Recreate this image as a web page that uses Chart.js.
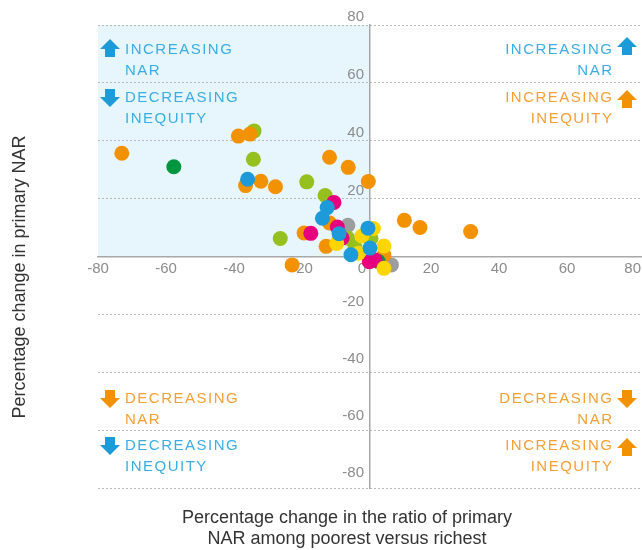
<!DOCTYPE html>
<html>
<head>
<meta charset="utf-8">
<script src="https://cdn.jsdelivr.net/npm/chart.js@4.4.1/dist/chart.umd.min.js"></script>
<style>
  html, body { margin: 0; padding: 0; background: #fff; }
</style>
</head>
<body>
<canvas id="myChart" width="642" height="550"></canvas>
<script>
// tick labels
const xTicks = [-80, -60, -40, -20, 0, 20, 40, 60, 80];
const yTicks = [80, 60, 40, 20, -20, -40, -60, -80];

// points [ratio change, NAR change], one list per colour
const orangePts = [
  [-73, 35.7], [-38.7, 41.6], [-35.3, 42.3], [-36.6, 24.5], [-32.1, 26], [-27.8, 24.1],
  [-22.9, -2.9], [-11.9, 34.3], [-6.4, 30.8], [-0.5, 25.9], [10.1, 12.5], [14.7, 10],
  [29.6, 8.6], [-19.4, 8.1], [-11.9, 11.6], [-12.9, 3.5], [4.1, 0.5]
];
const greenPts = [
  [-34.1, 43.4], [-34.3, 33.6], [-26.4, 6.2], [-18.6, 25.8], [-13.2, 21.1],
  [-6.5, 6.3], [-4.4, 3.1], [0.3, 6.3]
];
const darkGreenPts = [[-57.7, 31], [2.4, -1.7]];
const bluePts = [
  [-36, 26.7], [-12.6, 16.9], [-14, 13.2], [-9.1, 7.9], [-5.6, 0.6], [-0.6, 9.8], [0, 2.9]
];
const magentaPts = [[-10.6, 18.7], [-17.4, 8], [-9.6, 10.2], [-0.2, -1.8], [-8.2, 6.4], [1.5, -1.2]];
const greyPts = [[-6.5, 10.8], [6.3, -2.9]];
const yellowPts = [[-9.8, 4.5], [-2.4, 7.1], [1, 9.7], [4.1, 3.6], [4.1, -4.1], [-3.4, 1.1]];

const BLUE = '#1d9bd8', ORANGE = '#f39200';

function toXY(list) {
  return list.map(p => ({ x: p[0], y: p[1] }));
}

// top-most first
const series = [
  { pts: bluePts, color: BLUE },
  { pts: yellowPts, color: '#ffd500' },
  { pts: magentaPts, color: '#e6007e' },
  { pts: darkGreenPts, color: '#009640' },
  { pts: orangePts, color: ORANGE },
  { pts: greenPts, color: '#95c11f' },
  { pts: greyPts, color: '#9d9d9d' }
];

function drawArrow(ctx, x, y, up, color) {
  const w = 20, h = 18, head = 10, stem = 10, c = x + w / 2;
  ctx.fillStyle = color;
  ctx.beginPath();
  if (up) {
    ctx.moveTo(c, y);
    ctx.lineTo(x + w, y + head);
    ctx.lineTo(c + stem / 2, y + head);
    ctx.lineTo(c + stem / 2, y + h);
    ctx.lineTo(c - stem / 2, y + h);
    ctx.lineTo(c - stem / 2, y + head);
    ctx.lineTo(x, y + head);
  } else {
    ctx.moveTo(c - stem / 2, y);
    ctx.lineTo(c + stem / 2, y);
    ctx.lineTo(c + stem / 2, y + h - head);
    ctx.lineTo(x + w, y + h - head);
    ctx.lineTo(c, y + h);
    ctx.lineTo(x, y + h - head);
    ctx.lineTo(c - stem / 2, y + h - head);
  }
  ctx.closePath();
  ctx.fill();
}

// quadrant notes: side, arrow top, arrow direction, colour, first baseline, lines
const notes = [
  ['left', 39, true, BLUE, 54, ['INCREASING', 'NAR']],
  ['left', 89, false, BLUE, 102, ['DECREASING', 'INEQUITY']],
  ['right', 37, true, BLUE, 54, ['INCREASING', 'NAR']],
  ['right', 90, true, ORANGE, 102, ['INCREASING', 'INEQUITY']],
  ['left', 390, false, ORANGE, 403, ['DECREASING', 'NAR']],
  ['left', 437, false, BLUE, 450, ['DECREASING', 'INEQUITY']],
  ['right', 390, false, ORANGE, 403, ['DECREASING', 'NAR']],
  ['right', 438, true, ORANGE, 450, ['INCREASING', 'INEQUITY']]
];

const decorPlugin = {
  id: 'decor',
  beforeDraw(chart) {
    const { ctx, scales: { x, y } } = chart;
    const l = x.getPixelForValue(-80), r = x.getPixelForValue(0);
    const t = y.getPixelForValue(80), b = y.getPixelForValue(0);
    ctx.save();
    ctx.fillStyle = '#e7f5fd';
    ctx.fillRect(l, t, r - l, b - t);
    ctx.restore();
  },
  beforeDatasetsDraw(chart) {
    const { ctx, scales: { x, y } } = chart;
    const x0 = x.getPixelForValue(0), y0 = y.getPixelForValue(0);
    ctx.save();
    ctx.font = '15px "Liberation Sans", Arial, sans-serif';
    ctx.fillStyle = '#8c8c8c';
    ctx.textBaseline = 'middle';

    // y tick labels, left of the vertical axis, above their grid line
    ctx.textAlign = 'right';
    yTicks.forEach(v => {
      const off = v > 0 ? -8 : -12 + v / 80 * 3;
      ctx.fillText(String(v), x0 - 6, y.getPixelForValue(v) + off);
    });

    // x tick labels, under the horizontal axis
    xTicks.forEach(v => {
      let px = x.getPixelForValue(v);
      if (v === 0) {
        ctx.textAlign = 'right';
        px -= 4;
      } else if (v === xTicks[xTicks.length - 1]) {
        ctx.textAlign = 'right';
        px = chart.chartArea.right - 1;
      } else {
        ctx.textAlign = 'center';
        if (v > 0) px -= 7;
      }
      ctx.fillText(String(v), px, y0 + 12);
    });

    // quadrant notes
    ctx.font = '15px "Liberation Sans", Arial, sans-serif';
    ctx.letterSpacing = '1.5px';
    ctx.textBaseline = 'alphabetic';
    notes.forEach(([side, ay, up, color, base, lines]) => {
      const left = side === 'left';
      drawArrow(ctx, left ? 100 : 617, ay, up, color);
      ctx.fillStyle = color === BLUE ? '#3aaee4' : '#f5a034';
      ctx.textAlign = left ? 'left' : 'right';
      lines.forEach((s, i) => {
        ctx.fillText(s, left ? 125 : 613.5, base + i * 20.5);
      });
    });
    ctx.letterSpacing = '0px';

    // axis titles
    ctx.fillStyle = '#333';
    ctx.font = '18px "Liberation Sans", Arial, sans-serif';
    ctx.textAlign = 'center';
    ctx.fillText('Percentage change in the ratio of primary', 347, 523);
    ctx.fillText('NAR among poorest versus richest', 347, 544);
    ctx.translate(25, 277);
    ctx.rotate(-Math.PI / 2);
    ctx.fillText('Percentage change in primary NAR', 0, 0);
    ctx.restore();
  }
};

const ctx = document.getElementById('myChart');

new Chart(ctx, {
  type: 'scatter',
  data: {
    datasets: series.map((s, i) => ({
      data: toXY(s.pts),
      backgroundColor: s.color,
      borderWidth: 0,
      pointRadius: 7.5,
      pointHoverRadius: 7.5,
      order: i
    }))
  },
  options: {
    responsive: false,
    animation: false,
    devicePixelRatio: 1,
    layout: { autoPadding: false, padding: { left: 98, right: 0, top: 25, bottom: 62 } },
    plugins: {
      legend: { display: false },
      tooltip: { enabled: false }
    },
    scales: {
      x: {
        type: 'linear',
        min: -80,
        max: 80,
        position: { y: 0 },
        grid: { display: false },
        border: { color: '#a8a8a8', width: 1.5 },
        ticks: { display: false, stepSize: 20 }
      },
      y: {
        type: 'linear',
        min: -80,
        max: 80,
        position: { x: 0 },
        grid: { color: '#b9b9b9', lineWidth: 1, drawTicks: false },
        border: { color: '#a8a8a8', width: 1.5, dash: [2, 2] },
        ticks: { display: false, stepSize: 20 }
      }
    }
  },
  plugins: [decorPlugin]
});
</script>
</body>
</html>
